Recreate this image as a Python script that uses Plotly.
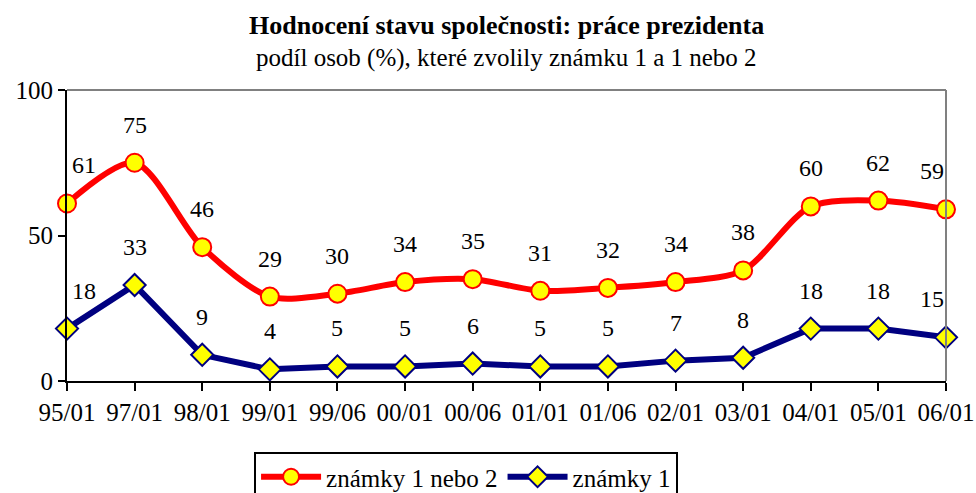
import plotly.graph_objects as go

categories = ["95/01", "97/01", "98/01", "99/01", "99/06", "00/01", "00/06",
              "01/01", "01/06", "02/01", "03/01", "04/01", "05/01", "06/01"]
znamky_1_nebo_2 = [61, 75, 46, 29, 30, 34, 35, 31, 32, 34, 38, 60, 62, 59]
znamky_1 = [18, 33, 9, 4, 5, 5, 6, 5, 5, 7, 8, 18, 18, 15]

FONT = "Liberation Serif, Times New Roman, serif"

fig = go.Figure()
fig.add_trace(go.Scatter(
    x=categories, y=znamky_1_nebo_2, name="známky 1 nebo 2",
    mode="lines+markers", line=dict(color="#ff0000", width=6, shape="spline", smoothing=0.8),
    marker=dict(symbol="circle", size=18, color="#ffff00", line=dict(color="#ff0000", width=2)),
    cliponaxis=False,
))
fig.add_trace(go.Scatter(
    x=categories, y=znamky_1, name="známky 1",
    mode="lines+markers", line=dict(color="#000080", width=6),
    marker=dict(symbol="diamond", size=17, color="#ffff00", line=dict(color="#000080", width=2)),
    cliponaxis=False,
))

annotations = []
n = len(categories)
for series in (znamky_1_nebo_2, znamky_1):
    for i, (c, v) in enumerate(zip(categories, series)):
        xs = 0
        if i == 0:
            xs = 17
        elif i == n - 1:
            xs = -14
        annotations.append(dict(
            x=c, y=v, xref="x", yref="y", text=str(v), showarrow=False,
            yshift=38, xshift=xs, font=dict(family=FONT, size=24, color="black"),
        ))

annotations.append(dict(x=0.5, y=1, xref="paper", yref="paper", yanchor="middle", yshift=65,
                        text="<b>Hodnocení stavu společnosti: práce prezidenta</b>",
                        showarrow=False, font=dict(family=FONT, size=26, color="black")))
annotations.append(dict(x=0.5, y=1, xref="paper", yref="paper", yanchor="middle", yshift=32,
                        text="podíl osob (%), které zvolily známku 1 a 1 nebo 2",
                        showarrow=False, font=dict(family=FONT, size=25, color="black")))

fig.update_layout(
    width=976, height=493,
    margin=dict(l=67, r=30, t=90, b=112, autoexpand=False),
    paper_bgcolor="white", plot_bgcolor="white",
    font=dict(family=FONT, size=24, color="black"),
    showlegend=True,
    legend=dict(orientation="h", x=0.454, xanchor="center", y=-0.244, yanchor="top",
                bordercolor="black", borderwidth=2, font=dict(family=FONT, size=25),
                itemwidth=60, tracegroupgap=0),
    xaxis=dict(type="category", range=[0, n - 1], showline=True, linecolor="black", linewidth=2,
               ticks="outside", ticklen=8, tickwidth=2, tickcolor="black", showgrid=False,
               zeroline=False, tickfont=dict(family=FONT, size=25)),
    yaxis=dict(range=[0, 100], tickvals=[0, 50, 100], showline=True, linecolor="black", linewidth=2,
               ticks="outside", ticklen=7, tickwidth=2, tickcolor="black", showgrid=False,
               zeroline=False, tickfont=dict(family=FONT, size=25)),
    shapes=[
        dict(type="line", xref="paper", yref="paper", x0=0, x1=1, y0=1, y1=1,
             line=dict(color="#808080", width=2)),
        dict(type="line", xref="paper", yref="paper", x0=1, x1=1, y0=0, y1=1,
             line=dict(color="#808080", width=2)),
    ],
    annotations=annotations,
)

fig.write_html("out.html", config={"displayModeBar": False},
               post_script="document.body.style.margin='0';")
